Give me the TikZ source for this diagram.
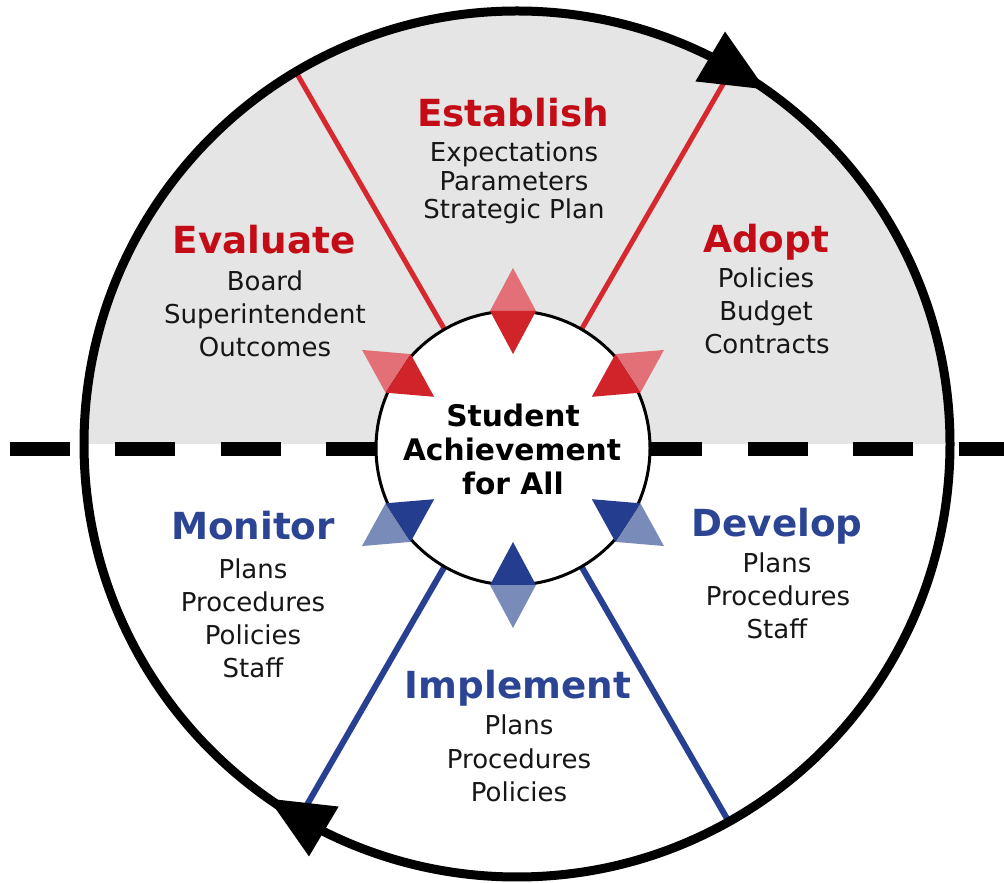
\documentclass[tikz,border=0pt]{standalone}
\usepackage{fontspec}
\setmainfont{DejaVu Sans}
\usetikzlibrary{calc}
\definecolor{bggray}{RGB}{229,229,229}
\definecolor{ttlred}{RGB}{195,12,22}
\definecolor{linered}{RGB}{214,40,46}
\definecolor{darkred}{RGB}{208,35,42}
\definecolor{lightred}{RGB}{226,112,118}
\definecolor{ttlblue}{RGB}{44,68,148}
\definecolor{lineblue}{RGB}{40,64,145}
\definecolor{darkblue}{RGB}{37,61,142}
\definecolor{lightblue}{RGB}{121,139,185}
\definecolor{txt}{RGB}{22,22,22}
\newcommand\ttlfont{\fontsize{37.3}{40}\selectfont\bfseries}
\newcommand\bdyfont{\fontsize{26}{30}\selectfont}
\newcommand\hubfont{\fontsize{29.7}{34}\selectfont\bfseries}
\tikzset{
  ttl/.style={anchor=base, inner sep=0pt, font=\ttlfont},
  bdy/.style={anchor=base, inner sep=0pt, font=\bdyfont, text=txt},
  hubtxt/.style={anchor=base, inner sep=0pt, font=\hubfont, text=black},
  redspoke/.style={line width=5pt, linered},
  bluespoke/.style={line width=6pt, lineblue},
}
\begin{document}
\begin{tikzpicture}[x=1pt,y=1pt]
\useasboundingbox (0,0) rectangle (1004,883);
\fill[white] (0,0) rectangle (1004,883);
\coordinate (bc) at (517,439);
\coordinate (ic) at (513,435);
% gray upper half
\fill[bggray] (84,439) arc[start angle=180, end angle=0, radius=433] -- cycle;
% hub
\node[circle, minimum size=274pt, inner sep=0pt] (hub) at (ic) {};
% spokes
\begin{scope}
  \clip (bc) circle (433);
  \draw[redspoke] (hub.60) -- ($(ic)+(60:600)$);
  \draw[redspoke] (hub.120) -- ($(ic)+(120:600)$);
  \draw[bluespoke] (hub.240) -- ($(ic)+(240:600)$);
  \draw[bluespoke] (hub.300) -- ($(ic)+(300:600)$);
\end{scope}
% dashed divider
\draw[line width=13.5pt, dash pattern=on 60pt off 45.4pt] (10,434) -- (1004,434);
% big circle
\draw[line width=9pt] (bc) circle (433);
% hub circle
\draw[line width=3pt, fill=white] (ic) circle (137);
% diamonds
\foreach \a/\dk/\lt in {90/darkred/lightred, 33/darkred/lightred, 147/darkred/lightred,
                        270/darkblue/lightblue, -33/darkblue/lightblue, 213/darkblue/lightblue}{
  \fill[\lt] ($(ic)+(\a:180)$) -- ($(ic)+(\a:137)+(\a+90:23)$) -- ($(ic)+(\a:137)+(\a-90:23)$) -- cycle;
  \fill[\dk] ($(ic)+(\a:94)$) -- ($(ic)+(\a:137)+(\a+90:23)$) -- ($(ic)+(\a:137)+(\a-90:23)$) -- cycle;
}
% cycle arrowheads
\coordinate (tb1) at ($(bc)+(63.5:433)$);
\coordinate (tt1) at ($(bc)+(55:433)$);
\fill (tt1) -- ($(tb1)!29pt!90:(tt1)$) -- ($(tb1)!29pt!-90:(tt1)$) -- cycle;
\coordinate (tb2) at ($(bc)+(243.5:433)$);
\coordinate (tt2) at ($(bc)+(235:433)$);
\fill (tt2) -- ($(tb2)!29pt!90:(tt2)$) -- ($(tb2)!29pt!-90:(tt2)$) -- cycle;
% hub text
\node[hubtxt] (h1) at (513,456) {Student};
\node[hubtxt] (h2) at (512,422) {Achievement};
\node[hubtxt] (h3) at (513,388) {for All};
% Establish
\node[ttl, text=ttlred] (est) at (513,756) {Establish};
\node[bdy] (est1) at (514,721) {Expectations};
\node[bdy] (est2) at (514,692) {Parameters};
\node[bdy] (est3) at (514,664) {Strategic Plan};
% Evaluate
\node[ttl, text=ttlred] (eva) at (264,629) {Evaluate};
\node[bdy] (eva1) at (265,592) {Board};
\node[bdy] (eva2) at (265,559) {Superintendent};
\node[bdy] (eva3) at (265,526) {Outcomes};
% Adopt
\node[ttl, text=ttlred] (ado) at (766,630) {Adopt};
\node[bdy] (ado1) at (766,595) {Policies};
\node[bdy] (ado2) at (766,562) {Budget};
\node[bdy] (ado3) at (767,529) {Contracts};
% Monitor
\node[ttl, text=ttlblue] (mon) at (253,343) {Monitor};
\node[bdy] (mon1) at (253,304) {Plans};
\node[bdy] (mon2) at (253,271) {Procedures};
\node[bdy] (mon3) at (253,238) {Policies};
\node[bdy] (mon4) at (253,205) {Staff};
% Develop
\node[ttl, text=ttlblue] (dev) at (777,346) {Develop};
\node[bdy] (dev1) at (777,310) {Plans};
\node[bdy] (dev2) at (778,277) {Procedures};
\node[bdy] (dev3) at (777,244) {Staff};
% Implement
\node[ttl, text=ttlblue] (imp) at (518,184) {Implement};
\node[bdy] (imp1) at (519,148) {Plans};
\node[bdy] (imp2) at (519,114) {Procedures};
\node[bdy] (imp3) at (519,81) {Policies};
\end{tikzpicture}
\end{document}
